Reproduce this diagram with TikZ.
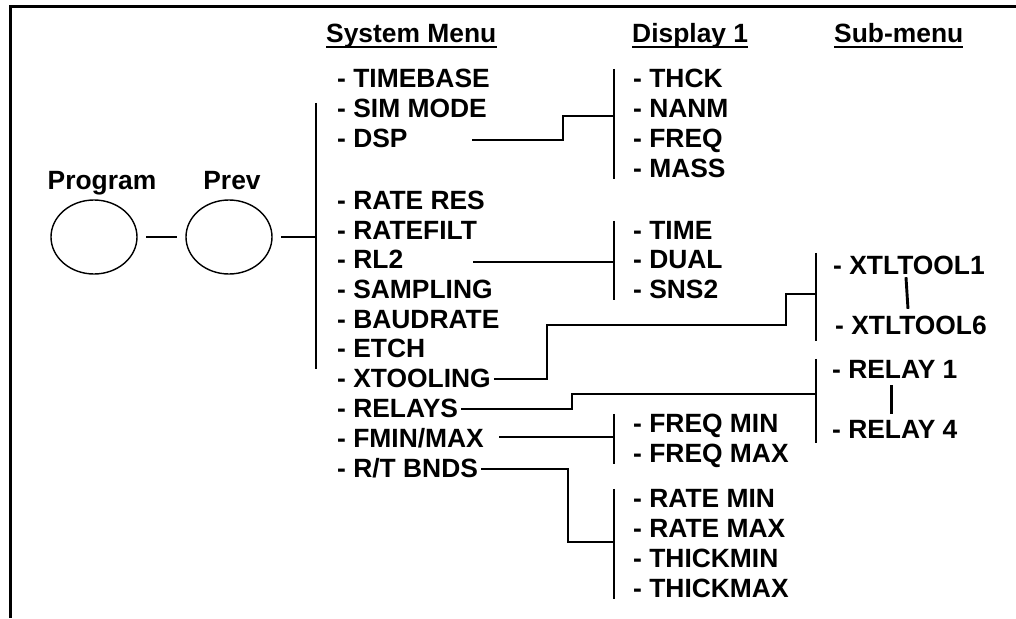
\documentclass[tikz,border=0pt]{standalone}
\usepackage{fontspec}
\setmainfont{Liberation Sans}
\usetikzlibrary{shapes.geometric,calc}

\begin{document}
\begin{tikzpicture}[
  x=1pt, y=-1pt,
  every node/.style={font=\bfseries\fontsize{26.4}{30}\selectfont},
  item/.style={anchor=base west, inner xsep=3pt, inner ysep=0pt, text height=18pt, text depth=2pt},
  head/.style={anchor=base west, inner sep=0pt},
  key/.style={draw, ellipse, line width=1.4pt, minimum width=86pt, minimum height=74pt, inner sep=0pt, outer sep=9pt},
  link/.style={line width=2.9pt},
  bar/.style={line width=2.9pt},
  uline/.style={line width=1.9pt},
  frame/.style={line width=3.2pt}
]
  \useasboundingbox (0,0) rectangle (1016,618);
  \draw[frame] (10.5,618) -- (10.5,6.5) -- (1016,6.5);

  % Column positions
  \coordinate (sysX) at (316,0);
  \coordinate (dispX) at (614,0);
  \coordinate (subX) at (816,0);

  % Headings
  \node[head] (syshead) at (326,42) {System Menu};
  \node[head] (disphead) at (632,42) {Display 1};
  \node[head] (subhead) at (834,42) {Sub-menu};
  \foreach \h in {syshead,disphead,subhead}
    \draw[uline] ([yshift=-5pt]\h.base west) -- ([yshift=-5pt]\h.base east);

  % Keys
  \node[key] (prog) at (94,237) {};
  \node[key] (prev) at (229,237) {};
  \node[anchor=base] (proglbl) at (102,189) {Program};
  \node[anchor=base] (prevlbl) at (232,189) {Prev};

  % System menu
  \foreach \n/\t/\y in {timebase/TIMEBASE/87, simmode/SIM MODE/117, dsp/DSP/147,
      rateres/RATE RES/209, ratefilt/RATEFILT/239, rl2/RL2/268, sampling/SAMPLING/298,
      baudrate/BAUDRATE/328, etch/ETCH/357, xtooling/XTOOLING/387, relays/RELAYS/417,
      fminmax/{FMIN/MAX}/447, rtbnds/{R/T BNDS}/477}
    \node[item] (\n) at (334,\y) {- \t};

  % Display 1
  \foreach \n/\t/\y in {thck/THCK/87, nanm/NANM/117, freq/FREQ/147, mass/MASS/177,
      time/TIME/239, dual/DUAL/268, sns/SNS2/298,
      fqmin/FREQ MIN/432, fqmax/FREQ MAX/462,
      ratemin/RATE MIN/507, ratemax/RATE MAX/537, thkmin/THICKMIN/567, thkmax/THICKMAX/597}
    \node[item] (\n) at (630,\y) {- \t};

  % Sub-menu
  \node[item] (xtla) at (830,274) {- XTLTOOL1};
  \node[item] (xtlb) at (832,334) {- XTLTOOL6};
  \node[item] (rlya) at (829,378) {- RELAY 1};
  \node[item] (rlyb) at (829,438) {- RELAY 4};

  % Bars
  \draw[bar] ([yshift=-4pt]simmode.north -| sysX) -- (xtooling.north -| sysX);
  \draw[bar] (thck.north -| dispX) -- (mass.south -| dispX);
  \draw[bar] (time.north -| dispX) -- (sns.south -| dispX);
  \draw[bar] (fqmin.north -| dispX) -- (fqmax.south -| dispX);
  \draw[bar] (ratemin.north -| dispX) -- (thkmax.south -| dispX);
  \draw[bar] ([yshift=3pt]xtla.north -| subX) -- ([yshift=-5pt]xtlb.south -| subX);
  \draw[bar] ([yshift=1pt]rlya.north -| subX) -- ([yshift=-3pt]rlyb.south -| subX);

  % Connectors
  \coordinate (dspOut) at (472,140);
  \coordinate (rl2Out) at (473,262);
  \coordinate (fminOut) at (499,437);
  \coordinate (dspIn) at (614,116);
  \coordinate (xtlIn) at (816,294);
  \coordinate (rlyIn) at (816,394);
  \coordinate (rtIn) at (614,542);

  \draw[link] (prog) -- (prev);
  \draw[link] (prev.east) -- (prev.east -| sysX);
  \draw[link] (dspOut) -- ++(91,0) |- (dspIn);
  \draw[link] (rl2Out) -- (rl2Out -| dispX);
  \draw[link] (xtooling.east) -| (547,325) -| (786,294) -- (xtlIn);
  \draw[link] (relays.east) -| (572,394) -- (rlyIn);
  \draw[link] (fminOut) -- (fminOut -| dispX);
  \draw[link] (rtbnds.east) -| (568,542) -- (rtIn);
  \draw[link] ([xshift=-3pt,yshift=-1pt]xtla.south) -- ([xshift=-3pt,yshift=7pt]xtlb.north);
  \draw[link] ([xshift=-3pt,yshift=-5pt]rlya.south) -- ([xshift=-3pt,yshift=6pt]rlyb.north);
\end{tikzpicture}
\end{document}
